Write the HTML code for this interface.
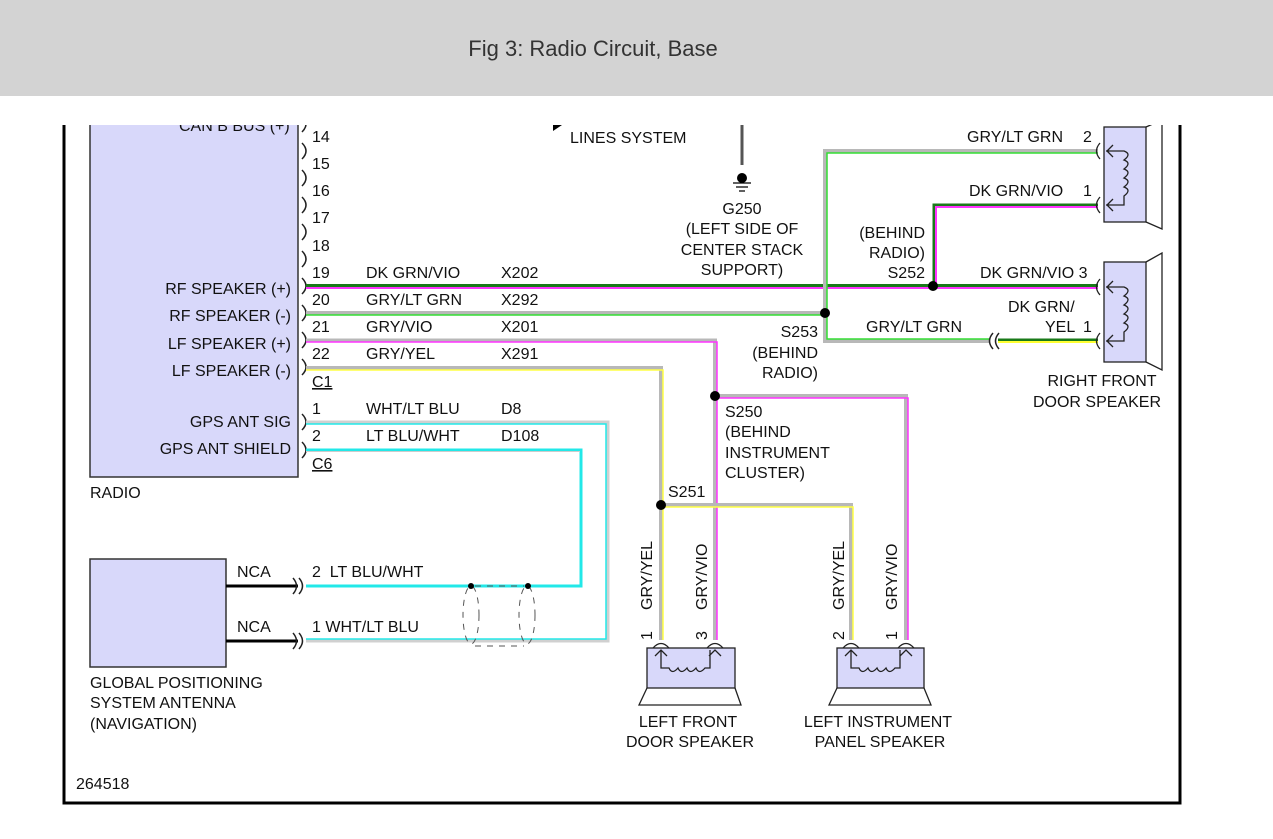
<!DOCTYPE html>
<html><head><meta charset="utf-8"><style>
html,body{margin:0;padding:0;background:#fff;width:1273px;height:839px;overflow:hidden}
.hdr{position:absolute;left:0;top:0;width:1273px;height:96px;background:#d3d3d3}
.hdr div{position:absolute;left:0;width:1186px;top:36px;text-align:center;font:22px "Liberation Sans","DejaVu Sans",sans-serif;color:#333}
svg{position:absolute;left:0;top:0}
text{font-family:"Liberation Sans",sans-serif;font-size:16px;fill:#111}
</style></head><body>
<div class="hdr"><div>Fig 3: Radio Circuit, Base</div></div>
<svg width="1273" height="839" viewBox="0 0 1273 839">
<defs><clipPath id="c"><rect x="0" y="125" width="1273" height="714"/></clipPath></defs>
<g clip-path="url(#c)" fill="none">
<path d="M64 120 V803 H1180 V120" stroke="#000" stroke-width="3"/>
<rect x="90" y="110" width="208" height="367" fill="#d8d8fa" stroke="#333" stroke-width="1.5"/>
<g stroke="#222" stroke-width="1.5">
<path d="M302 116 q8 8 0 16"/><path d="M302 143 q8 8 0 16"/><path d="M302 170 q8 8 0 16"/><path d="M302 197 q8 8 0 16"/><path d="M302 224 q8 8 0 16"/><path d="M302 251 q8 8 0 16"/><path d="M302 278 q8 8 0 16"/><path d="M302 305 q8 8 0 16"/><path d="M302 332 q8 8 0 16"/><path d="M302 359 q8 8 0 16"/>
<path d="M302 414 q8 8 0 16"/><path d="M302 442 q8 8 0 16"/>
</g>
<g stroke-linejoin="miter">
<path d="M306 285.5 H1098" stroke="#1a7a1a" stroke-width="3"/>
<path d="M306 288 H1098" stroke="#ff33ff" stroke-width="2"/>
<path d="M934 286 V205 H1098" stroke="#1a7a1a" stroke-width="3"/>
<path d="M936 286 V207 H1098" stroke="#ff33ff" stroke-width="2"/>
<path d="M306 313 H825" stroke="#b8b8b8" stroke-width="4"/>
<path d="M306 315 H825" stroke="#33dd33" stroke-width="1.5"/>
<path d="M825 313 V151 H1098" stroke="#b8b8b8" stroke-width="4"/>
<path d="M827 313 V153 H1098" stroke="#33dd33" stroke-width="1.5"/>
<path d="M825 313 V341 H990" stroke="#b8b8b8" stroke-width="4"/>
<path d="M827 313 V339 H990" stroke="#33dd33" stroke-width="1.5"/>
<path d="M998 340 H1098" stroke="#1a7a1a" stroke-width="3"/>
<path d="M998 342 H1098" stroke="#ffff33" stroke-width="2"/>
<path d="M306 340.5 H715 V640" stroke="#b8b8b8" stroke-width="4"/>
<path d="M306 342 H717 V640" stroke="#ff33ff" stroke-width="1.5"/>
<path d="M715 396 H906 V640" stroke="#b8b8b8" stroke-width="4"/>
<path d="M715 398 H908 V640" stroke="#ff33ff" stroke-width="1.5"/>
<path d="M306 368 H661 V640" stroke="#b8b8b8" stroke-width="4"/>
<path d="M306 370 H663 V640" stroke="#ffff44" stroke-width="1.5"/>
<path d="M661 505 H851 V640" stroke="#b8b8b8" stroke-width="4"/>
<path d="M661 507 H853 V640" stroke="#ffff44" stroke-width="1.5"/>
<path d="M306 422 H608 V641 H306" stroke="#d0d0d0" stroke-width="3"/>
<path d="M306 424 H606 V639 H306" stroke="#22e8e8" stroke-width="1.5"/>
<path d="M306 450 H581 V586 H306" stroke="#22e8e8" stroke-width="3"/>
<path d="M306 451.5 H580" stroke="#ccc" stroke-width="1"/>
</g>
<g stroke="#555" stroke-width="1" stroke-dasharray="6,6">
<ellipse cx="471" cy="615" rx="8" ry="29"/><ellipse cx="527" cy="615" rx="8" ry="29"/>
<path d="M475 586 H524 M475 646 H524"/>
</g>
<circle cx="471" cy="586" r="3" fill="#000"/><circle cx="528" cy="586" r="3" fill="#000"/>
<rect x="90" y="559" width="136" height="108" fill="#d8d8fa" stroke="#333" stroke-width="1.5"/>
<path d="M226 586 H298 M226 641 H298" stroke="#000" stroke-width="3"/>
<g stroke="#222" stroke-width="1.5"><path d="M293 578 q7 8 0 16 M299 578 q7 8 0 16 M293 633 q7 8 0 16 M299 633 q7 8 0 16"/></g>
<g fill="#000"><circle cx="933" cy="286" r="5"/><circle cx="825" cy="313" r="5"/><circle cx="715" cy="396" r="5"/><circle cx="661" cy="505" r="5"/></g>
<g stroke="#222" stroke-width="1.5"><path d="M993 333 q-7 8 0 16 M999 333 q-7 8 0 16"/></g>
<path d="M742 120 V165" stroke="#555" stroke-width="3"/>
<circle cx="742" cy="178" r="5" fill="#000"/>
<path d="M733 183 H751 M736 187 H748 M739 191 H745" stroke="#000" stroke-width="1.3"/>
<path d="M553 125 H562 L553 131 Z" fill="#000"/>
<g stroke="#222" stroke-width="1.3">
<rect x="1104" y="127" width="42" height="95" fill="#d8d8fa"/>
<path d="M1146 127 L1162 120 V229 L1146 222"/>
<rect x="1104" y="262" width="42" height="100" fill="#d8d8fa"/>
<path d="M1146 262 L1162 253 V370 L1146 362"/>
<path d="M1100 143 q-7 8 0 16 M1100 197 q-7 8 0 16 M1100 279 q-7 8 0 16 M1100 333 q-7 8 0 16"/>
<path d="M1106 151 H1124 q8 3 0 9 q8 3 0 9 q8 3 0 9 q8 3 0 9 q8 3 0 9 V205 H1106 M1113 145 l-6 6 6 6 M1113 199 l-6 6 6 6"/>
<path d="M1106 287 H1124 q8 3 0 9 q8 3 0 9 q8 3 0 9 q8 3 0 9 q8 3 0 9 V341 H1106 M1113 281 l-6 6 6 6 M1113 335 l-6 6 6 6"/>
</g>
<g stroke="#222" stroke-width="1.3">
<rect x="647" y="648" width="88" height="40" fill="#d8d8fa"/>
<path d="M647 688 L639 705 H741 L735 688"/>
<rect x="837" y="648" width="87" height="40" fill="#d8d8fa"/>
<path d="M837 688 L829 705 H931 L924 688"/>
<path d="M653 648 q8 -9 16 0 M707 648 q8 -9 16 0 M843 648 q8 -9 16 0 M898 648 q8 -9 16 0"/>
<path d="M661 650 V668 h8 q3 7 9 0 q3 7 9 0 q3 7 9 0 q3 7 9 0 h5 V650 M655 656 l6 -6 6 6 M709 656 l6 -6 6 6"/>
<path d="M851 650 V668 h8 q3 7 9 0 q3 7 9 0 q3 7 9 0 q3 7 9 0 h5 V650 M845 656 l6 -6 6 6 M900 656 l6 -6 6 6"/>
</g>
<text x="179" y="131">CAN B BUS (+)</text>
</g>
<g>
<text x="312" y="142">14</text><text x="312" y="169">15</text><text x="312" y="196">16</text><text x="312" y="223">17</text><text x="312" y="251">18</text>
<text x="312" y="278">19</text><text x="312" y="305">20</text><text x="312" y="332">21</text><text x="312" y="359">22</text>
<text x="312" y="387" text-decoration="underline">C1</text>
<text x="291" y="294" text-anchor="end">RF SPEAKER (+)</text>
<text x="291" y="321" text-anchor="end">RF SPEAKER (-)</text>
<text x="291" y="349" text-anchor="end">LF SPEAKER (+)</text>
<text x="291" y="376" text-anchor="end">LF SPEAKER (-)</text>
<text x="366" y="278">DK GRN/VIO</text><text x="501" y="278">X202</text>
<text x="366" y="305">GRY/LT GRN</text><text x="501" y="305">X292</text>
<text x="366" y="332">GRY/VIO</text><text x="501" y="332">X201</text>
<text x="366" y="359">GRY/YEL</text><text x="501" y="359">X291</text>
<text x="291" y="427" text-anchor="end">GPS ANT SIG</text>
<text x="291" y="454" text-anchor="end">GPS ANT SHIELD</text>
<text x="312" y="414">1</text><text x="366" y="414">WHT/LT BLU</text><text x="501" y="414">D8</text>
<text x="312" y="441">2</text><text x="366" y="441">LT BLU/WHT</text><text x="501" y="441">D108</text>
<text x="312" y="469" text-decoration="underline">C6</text>
<text x="90" y="498">RADIO</text>
<text x="237" y="577">NCA</text><text x="237" y="632">NCA</text>
<text x="312" y="577">2&#160;&#160;LT BLU/WHT</text>
<text x="312" y="632">1 WHT/LT BLU</text>
<text x="90" y="688">GLOBAL POSITIONING</text>
<text x="90" y="708">SYSTEM ANTENNA</text>
<text x="90" y="729">(NAVIGATION)</text>
<text x="76" y="789">264518</text>
<text x="570" y="143">LINES SYSTEM</text>
<text x="742" y="214" text-anchor="middle">G250</text>
<text x="742" y="234" text-anchor="middle">(LEFT SIDE OF</text>
<text x="742" y="255" text-anchor="middle">CENTER STACK</text>
<text x="742" y="275" text-anchor="middle">SUPPORT)</text>
<text x="925" y="238" text-anchor="end">(BEHIND</text>
<text x="925" y="258" text-anchor="end">RADIO)</text>
<text x="925" y="278" text-anchor="end">S252</text>
<text x="818" y="337" text-anchor="end">S253</text>
<text x="818" y="358" text-anchor="end">(BEHIND</text>
<text x="818" y="378" text-anchor="end">RADIO)</text>
<text x="967" y="142">GRY/LT GRN</text><text x="1083" y="142">2</text>
<text x="969" y="196">DK GRN/VIO</text><text x="1083" y="196">1</text>
<text x="980" y="278">DK GRN/VIO 3</text>
<text x="1008" y="312">DK GRN/</text>
<text x="1045" y="332">YEL</text><text x="1083" y="332">1</text>
<text x="866" y="332">GRY/LT GRN</text>
<text x="1102" y="386" text-anchor="middle">RIGHT FRONT</text>
<text x="1097" y="407" text-anchor="middle">DOOR SPEAKER</text>
<text x="725" y="417">S250</text><text x="725" y="437">(BEHIND</text><text x="725" y="458">INSTRUMENT</text><text x="725" y="478">CLUSTER)</text>
<text x="668" y="497">S251</text>
<text x="652" y="610" transform="rotate(-90 652 610)">GRY/YEL</text>
<text x="707" y="610" transform="rotate(-90 707 610)">GRY/VIO</text>
<text x="844" y="610" transform="rotate(-90 844 610)">GRY/YEL</text>
<text x="897" y="610" transform="rotate(-90 897 610)">GRY/VIO</text>
<text x="652" y="640" transform="rotate(-90 652 640)">1</text>
<text x="707" y="640" transform="rotate(-90 707 640)">3</text>
<text x="844" y="640" transform="rotate(-90 844 640)">2</text>
<text x="897" y="640" transform="rotate(-90 897 640)">1</text>
<text x="688" y="727" text-anchor="middle">LEFT FRONT</text>
<text x="690" y="747" text-anchor="middle">DOOR SPEAKER</text>
<text x="878" y="727" text-anchor="middle">LEFT INSTRUMENT</text>
<text x="880" y="747" text-anchor="middle">PANEL SPEAKER</text>
</g>
</svg>
</body></html>
